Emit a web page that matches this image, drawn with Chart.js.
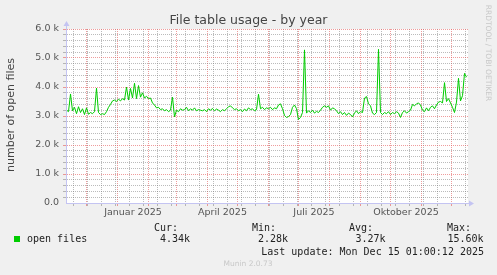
<!DOCTYPE html>
<html>
<head>
<meta charset="utf-8">
<script src="https://cdn.jsdelivr.net/npm/chart.js@4"></script>
<style>
html, body { margin: 0; padding: 0; background: #f0f0f0; }
canvas { display: block; }
</style>
</head>
<body>
<canvas id="chart" width="497" height="275"></canvas>
<script>
// Days are counted from the start of the graph (Nov 10 2024), 400 days shown
const firstDay = 1;
const dayStep = 2;
const openFiles = [
    3200, 3150, 3760, 3180, 3300, 3080, 3320, 3120, 3250, 3050,
    3280, 3060, 3120, 3080, 3150, 3960, 3120, 3050, 3080, 3050,
    3150, 3300, 3400, 3520, 3550, 3500, 3580, 3520, 3600, 3550,
    4000, 3550, 3950, 3620, 4130, 3600, 4050, 3650, 3800, 3620,
    3680, 3600, 3620, 3450, 3380, 3280, 3300, 3220, 3250, 3180,
    3220, 3150, 3200, 3650, 2970, 3200, 3150, 3250, 3200, 3220,
    3300, 3180, 3250, 3200, 3280, 3180, 3220, 3200, 3180, 3220,
    3150, 3250, 3200, 3260, 3180, 3240, 3200, 3150, 3220, 3180,
    3250, 3320, 3350, 3280, 3220, 3250, 3180, 3220, 3150, 3240,
    3180, 3280, 3220, 3250, 3180, 3220, 3750, 3250, 3300, 3220,
    3280, 3250, 3300, 3220, 3280, 3250, 3380, 3420, 3250, 3020,
    2950, 2980, 3050, 3300, 3380, 3250, 2880, 2950, 3120, 5280,
    3100, 3180, 3120, 3200, 3100, 3160, 3120, 3200, 3300, 3350,
    3300, 3350, 3200, 3280, 3250, 3180, 3080, 3150, 3050, 3120,
    3020, 3100, 3050, 2970, 3100, 3180, 3080, 3150, 3120, 3620,
    3670, 3420, 3350, 3100, 3050, 3120, 5300, 3120, 3050, 3120,
    3080, 3150, 3050, 3120, 3080, 3150, 3100, 2950, 3120, 3180,
    3100, 3150, 3200, 3400, 3350, 3420, 3450, 3380, 3200, 3150,
    3280, 3180, 3300, 3350, 3250, 3380, 3480, 3500, 3450, 4150,
    3500, 3600, 3450, 3300, 3120, 3480, 4300, 3520, 3700, 4470,
    4340
];

// grid: month starts (red), every second Monday (grey), labels mid-month
const monthStarts = [21, 52, 83, 111, 142, 172, 203, 233, 264, 295, 325, 356, 386];
const firstMonday = 8;
const mondayStep = 14;
const labelDays = [67.5, 157, 248.5, 340.5];
const labelTexts = ['Januar 2025', 'April 2025', 'Juli 2025', 'Oktober 2025'];

const yMax = 6000;
const yMinorStep = 200;
const yMajorStep = 1000;

const statNames = ['Cur:', 'Min:', 'Avg:', 'Max:'];
const statValues = ['4.34k', '2.28k', '3.27k', '15.60k'];

const lineColor = '#00cc00';
const axisColor = '#c4c4f2';
const majorGrid = 'rgba(228,90,90,0.6)';
const minorGrid = 'rgba(120,120,120,0.5)';

const points = openFiles.map((v, i) => ({ x: firstDay + i * dayStep, y: v }));

const xTicks = [];
for (let d = firstMonday; d <= 400; d += mondayStep) {
    if (!monthStarts.includes(d)) xTicks.push(d);
}
monthStarts.forEach(d => xTicks.push(d));
labelDays.forEach(d => xTicks.push(d));
xTicks.sort((a, b) => a - b);

const yTicks = [];
for (let v = 0; v <= yMax; v += yMinorStep) yTicks.push(v);

function xGridColor(ctx) {
    const v = ctx.tick ? ctx.tick.value : null;
    if (labelDays.includes(v)) return 'rgba(0,0,0,0)';
    if (monthStarts.includes(v)) return majorGrid;
    return minorGrid;
}

function yGridColor(ctx) {
    const v = ctx.tick ? ctx.tick.value : null;
    if (v === 0) return 'rgba(0,0,0,0)';
    return v % yMajorStep === 0 ? majorGrid : minorGrid;
}

const muninDecor = {
    id: 'muninDecor',
    beforeDraw(chart) {
        const { ctx, chartArea: a } = chart;
        ctx.save();
        ctx.fillStyle = '#f0f0f0';
        ctx.fillRect(0, 0, chart.width, chart.height);
        ctx.fillStyle = '#ffffff';
        ctx.fillRect(a.left, a.top, a.right - a.left, a.bottom - a.top);
        ctx.restore();
    },
    afterDraw(chart) {
        const { ctx, chartArea: a } = chart;
        ctx.save();

        // axis lines with arrows
        ctx.strokeStyle = axisColor;
        ctx.fillStyle = axisColor;
        ctx.lineWidth = 1;
        ctx.beginPath();
        ctx.moveTo(a.left + 0.5, a.bottom + 0.5);
        ctx.lineTo(a.left + 0.5, a.top - 4);
        ctx.moveTo(a.left, a.bottom + 0.5);
        ctx.lineTo(a.right + 1, a.bottom + 0.5);
        ctx.stroke();
        ctx.beginPath();
        ctx.moveTo(a.left - 2.5, a.top - 3);
        ctx.lineTo(a.left + 3.5, a.top - 3);
        ctx.lineTo(a.left + 0.5, a.top - 8);
        ctx.closePath();
        ctx.fill();
        ctx.beginPath();
        ctx.moveTo(a.right + 1, a.bottom - 2.5);
        ctx.lineTo(a.right + 1, a.bottom + 3.5);
        ctx.lineTo(a.right + 6, a.bottom + 0.5);
        ctx.closePath();
        ctx.fill();

        // title
        ctx.fillStyle = '#444';
        ctx.font = '12.5px "DejaVu Sans"';
        ctx.textAlign = 'center';
        ctx.textBaseline = 'alphabetic';
        ctx.fillText('File table usage - by year', 248.5, 23.5);

        // y axis title
        ctx.save();
        ctx.translate(11, 115);
        ctx.rotate(-Math.PI / 2);
        ctx.font = '11px "DejaVu Sans"';
        ctx.textBaseline = 'middle';
        ctx.fillText('number of open files', 0, 0);
        ctx.restore();

        // rrdtool credit
        ctx.save();
        ctx.translate(488, 53);
        ctx.rotate(Math.PI / 2);
        ctx.fillStyle = '#c8c8c8';
        ctx.font = '7.5px "DejaVu Sans"';
        ctx.textBaseline = 'middle';
        ctx.fillText('RRDTOOL / TOBI OETIKER', 0, 0);
        ctx.restore();

        // legend and stats
        ctx.fillStyle = lineColor;
        ctx.fillRect(14, 236, 6, 6);
        ctx.fillStyle = '#222';
        ctx.font = '10px "DejaVu Sans Mono"';
        ctx.textBaseline = 'middle';
        ctx.textAlign = 'left';
        ctx.fillText('open files', 27, 239.5);
        const nameX = [154, 252, 349, 447];
        const valueRight = [190, 288, 385.5, 483.5];
        statNames.forEach((n, i) => {
            ctx.textAlign = 'left';
            ctx.fillText(n, nameX[i], 228);
            ctx.textAlign = 'right';
            ctx.fillText(statValues[i], valueRight[i], 239.5);
        });
        ctx.textAlign = 'right';
        ctx.fillText('Last update: Mon Dec 15 01:00:12 2025', 484, 252);

        ctx.fillStyle = '#c8c8c8';
        ctx.font = '7.5px "DejaVu Sans"';
        ctx.textAlign = 'center';
        ctx.fillText('Munin 2.0.73', 248, 264);
        ctx.restore();
    }
};

new Chart(document.getElementById('chart'), {
    type: 'line',
    data: {
        datasets: [{
            label: 'open files',
            data: points,
            borderColor: lineColor,
            borderWidth: 1,
            pointRadius: 0,
            tension: 0,
            fill: false
        }]
    },
    options: {
        responsive: false,
        devicePixelRatio: 1,
        animation: false,
        layout: { padding: { left: 0, top: 29, right: 29, bottom: 0 } },
        plugins: {
            legend: { display: false },
            title: { display: false },
            tooltip: { enabled: false }
        },
        scales: {
            x: {
                type: 'linear',
                min: 0.5,
                max: 402.5,
                afterBuildTicks: scale => { scale.ticks = xTicks.map(v => ({ value: v })); },
                afterFit: scale => { scale.height = 72; },
                grid: { color: xGridColor, tickLength: 3, lineWidth: 1 },
                border: { color: axisColor, dash: [1, 1] },
                ticks: {
                    autoSkip: false,
                    maxRotation: 0,
                    minRotation: 0,
                    padding: 1,
                    color: '#555',
                    font: { family: 'DejaVu Sans', size: 9.5 },
                    callback: v => {
                        const i = labelDays.indexOf(v);
                        return i >= 0 ? labelTexts[i] : '';
                    }
                }
            },
            y: {
                min: 0,
                max: yMax,
                afterBuildTicks: scale => { scale.ticks = yTicks.map(v => ({ value: v })); },
                afterFit: scale => { scale.width = 66; },
                grid: { color: yGridColor, tickLength: 3, lineWidth: 1 },
                border: { color: axisColor, dash: [1, 1] },
                ticks: {
                    autoSkip: false,
                    padding: 4,
                    color: '#555',
                    font: { family: 'DejaVu Sans', size: 9.5 },
                    callback: v => {
                        if (v % yMajorStep !== 0) return '';
                        return v === 0 ? '0.0' : (v / 1000).toFixed(1) + ' k';
                    }
                }
            }
        }
    },
    plugins: [muninDecor]
});
</script>
</body>
</html>
